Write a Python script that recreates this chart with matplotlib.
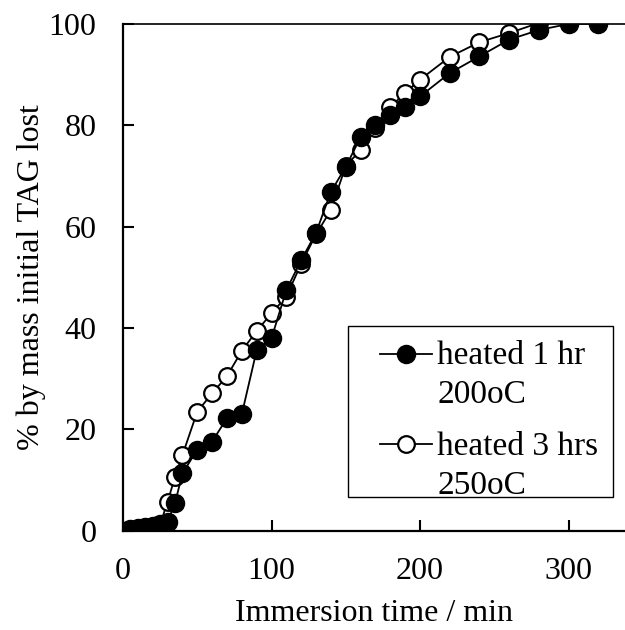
import numpy as np
import matplotlib.pyplot as plt
from matplotlib.lines import Line2D
from matplotlib.patches import Rectangle
from matplotlib.legend_handler import HandlerBase

# immersion time (min) and % by mass initial TAG lost
t_1hr = [0, 5, 10, 15, 20, 25, 30, 35, 40, 50, 60, 70, 80, 90, 100, 110, 120,
         130, 140, 150, 160, 170, 180, 190, 200, 220, 240, 260, 280, 300, 320]
y_1hr = [0, 0.3, 0.5, 0.7, 1.0, 1.3, 1.8, 5.4, 11.3, 16.0, 17.6, 22.2, 23.0,
         35.6, 38.0, 47.5, 53.4, 58.8, 66.9, 71.8, 77.7, 80.0, 82.0, 83.6,
         85.7, 90.3, 93.6, 96.9, 98.8, 100, 100]

t_3hr = [0, 5, 10, 15, 20, 25, 30, 35, 40, 50, 60, 70, 80, 90, 100, 110, 120,
         130, 140, 150, 160, 170, 180, 190, 200, 220, 240, 260, 280]
y_3hr = [0, 0.2, 0.4, 0.6, 0.9, 1.2, 5.7, 10.6, 14.9, 23.5, 27.1, 30.5, 35.5,
         39.4, 42.9, 46.2, 52.7, 58.5, 63.3, 72.0, 75.1, 79.5, 83.6, 86.4,
         89.0, 93.5, 96.4, 98.2, 100.2]

labels = ['heated 1 hr\n200oC', 'heated 3 hrs\n250oC']

plt.rcParams['font.family'] = ['Liberation Serif', 'DejaVu Serif']
FS = 23
LFS = 24


# legend handle drawn level with the first line of a two-line label
class TopLineHandler(HandlerBase):
    def create_artists(self, legend, orig, xdescent, ydescent, width, height,
                       fontsize, trans):
        y = height / 2 - ydescent + 0.66 * fontsize
        x0, x1 = -xdescent, width - xdescent
        line = Line2D([x0, x1], [y, y], color='black', lw=1.3)
        mk = Line2D([(x0 + x1) / 2], [y], ls='none', marker='o',
                    ms=orig.get_markersize(), mfc=orig.get_markerfacecolor(),
                    mec='black', mew=orig.get_markeredgewidth())
        line.set_transform(trans)
        mk.set_transform(trans)
        return [line, mk]


fig = plt.figure(figsize=(6.25, 6.3), dpi=100, facecolor='white')
ax = fig.add_axes([0.1968, 0.1576, 0.8032, 0.8044])

l1, = ax.plot(t_1hr, y_1hr, color='black', lw=1.3, marker='o', ms=13,
              mfc='black', mec='black', mew=1.0, label=labels[0], zorder=3)
l2, = ax.plot(t_3hr, y_3hr, color='black', lw=1.3, marker='o', ms=12,
              mfc='white', mec='black', mew=1.6, label=labels[1], zorder=2)

ax.set_xlim(0, 338)
ax.set_ylim(0, 100)
ax.set_xticks([0, 100, 200, 300])
ax.set_yticks([0, 20, 40, 60, 80, 100])

for s in ['left', 'bottom']:
    ax.spines[s].set_linewidth(1.6)
ax.spines['top'].set_linewidth(1.2)
ax.spines['right'].set_visible(False)

ax.tick_params(axis='both', direction='in', labelsize=FS, width=1.5, length=8)
ax.tick_params(axis='x', pad=19)
ax.tick_params(axis='y', pad=19)

ax.set_xlabel('Immersion time / min', fontsize=FS, labelpad=9)
ax.set_ylabel('% by mass initial TAG lost', fontsize=FS, labelpad=2)

# legend frame (Excel style: text sits high in the box)
ax.add_patch(Rectangle((0.4486, 0.0665), 0.5276, 0.3375, transform=ax.transAxes,
                       fill=True, facecolor='white', edgecolor='black', lw=1.0,
                       zorder=4))
leg = ax.legend(handler_map={l1: TopLineHandler(), l2: TopLineHandler()},
                loc='upper left', bbox_to_anchor=(0.5122, 0.3744),
                fontsize=LFS, frameon=False, borderpad=0, labelspacing=0.62,
                handlelength=1.56, handletextpad=0.15, borderaxespad=0)
leg.set_zorder(5)
for txt in leg.get_texts():
    txt.set_linespacing(1.36)

plt.savefig('out.png', dpi=100, facecolor='white')
